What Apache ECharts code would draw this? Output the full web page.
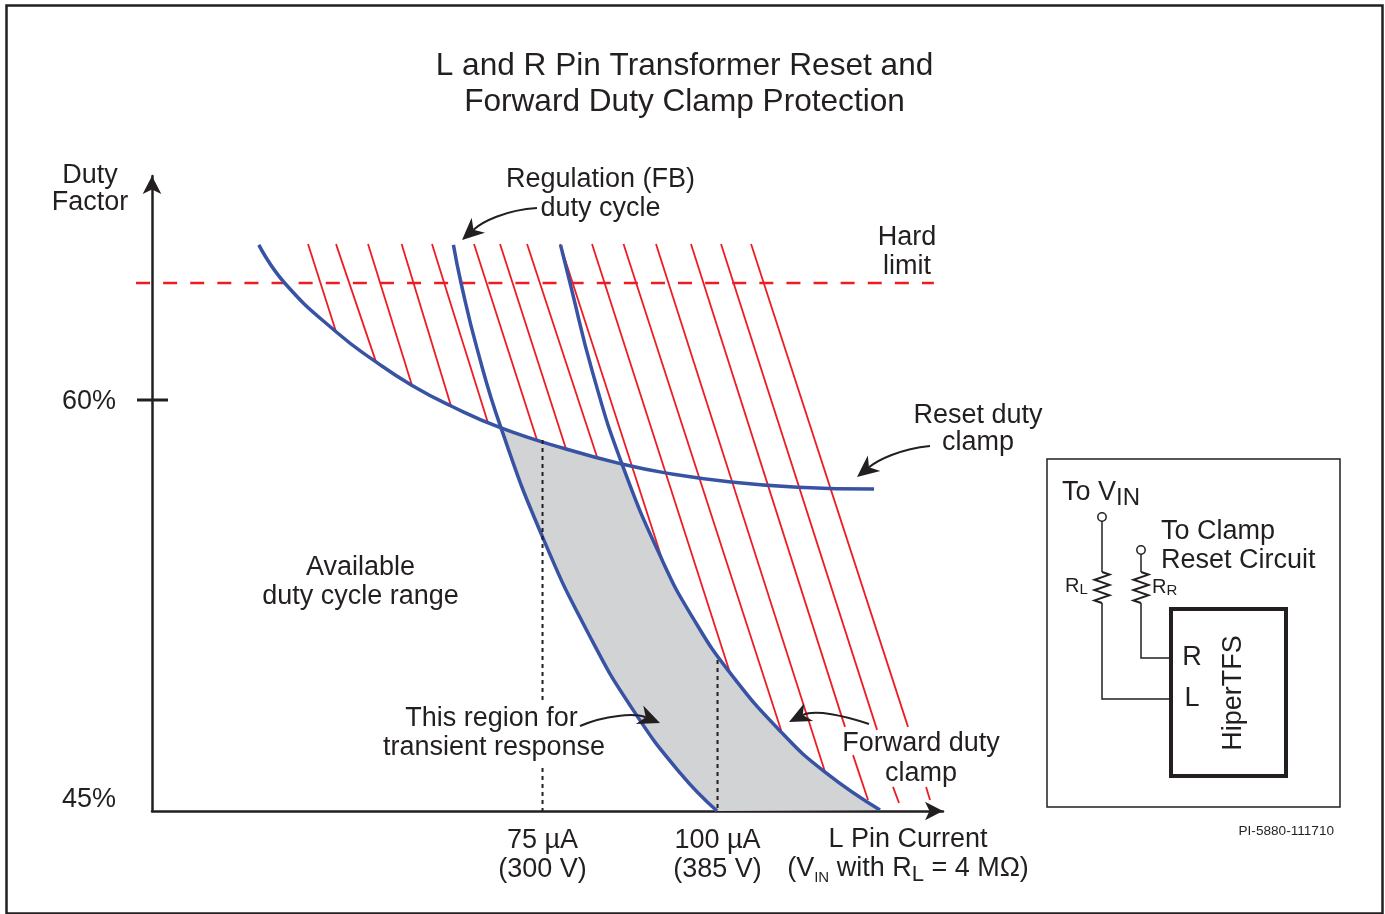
<!DOCTYPE html>
<html>
<head>
<meta charset="utf-8">
<script src="https://cdn.jsdelivr.net/npm/echarts@6/dist/echarts.min.js"></script>
<style>html,body{margin:0;padding:0;background:#fff}#c{width:1385px;height:914px}</style>
</head>
<body>
<div id="c"></div>
<script>
// L pin current (uA) vs duty factor (%)
const xTickValues = [75, 100];
const xTickLabels = ['75 µA\n(300 V)', '100 µA\n(385 V)'];
const yTickValues = [45, 60];
const yTickLabels = ['45%', '60%'];

const resetClamp = [[34.47,65.66],[38.16,64.27],[45.5,62.49],[51.21,61.39],[56.36,60.53],[61.93,59.78],[69.07,58.98],[78.36,58.21],[86.36,57.66],[92.36,57.35],[101.93,57.01],[111.5,56.82],[122.36,56.75]];
const regulationCurve = [[62.27,65.66],[63.36,64.27],[65.59,61.93],[69.07,58.98],[75.07,54.96],[81.79,51.36],[87.93,48.69],[94.64,46.39],[99.93,45]];
const forwardClamp = [[77.57,65.66],[78.93,64.27],[82.17,60.99],[86.36,57.66],[92.21,54.09],[96.5,52.04],[101.79,50.04],[109.21,47.85],[115.36,46.42],[123.21,45.04]];
const hardLimit = [[16.93,64.27],[130.9,64.27]];

const hatchLines = [
  [[41.5,65.69],[45.5,62.49]],
  [[45.5,65.69],[51.21,61.39]],
  [[50.07,65.69],[56.36,60.53]],
  [[54.87,65.69],[61.93,59.78]],
  [[59.21,65.69],[67.21,59.16]],
  [[65.21,65.69],[74.21,58.54]],
  [[68.93,65.69],[78.36,58.21]],
  [[72.79,65.69],[82.79,57.92]],
  [[77.5,65.69],[92.21,54.09]],
  [[82.07,65.69],[101.79,50.04]],
  [[86.57,65.69],[109.21,47.85]],
  [[91.21,65.69],[115.36,46.42]],
  [[96.21,65.69],[118.21,48.07]],
  [[119.36,47.04],[121.5,45.4]],
  [[100.5,65.69],[122.79,47.96]],
  [[125.07,45.88],[125.93,45.29]],
  [[104.79,65.69],[127.21,48.07]],
  [[129.79,45.88],[130.36,45.4]]
];
const dottedLines = [
  [[75,58.54],[75,49.05]],
  [[75,46.57],[75,45]],
  [[100,50.51],[100,45]]
];
const tick60 = [[17.07,60],[21.5,60]];

const INK = '#231f20', BLUE = '#3953a4', RED = '#ed1c24', GREY = '#d1d3d4';
const FONT = '"Liberation Sans", Arial, sans-serif';
const BODY = 27;

const region = resetClamp.slice(6, 9).concat(forwardClamp.slice(3), regulationCurve.slice(3).reverse());

function txt(x, y, text, opt) {
  opt = opt || {};
  return { type: 'text', x: x, y: y, rotation: opt.rotation || 0, z: 20, silent: true,
    style: { text: text, fill: INK, font: (opt.size || BODY) + 'px ' + FONT, align: opt.align || 'center',
      verticalAlign: 'middle', lineHeight: opt.lh, rich: opt.rich } };
}
function line(points, w) {
  return { type: 'polyline', z: 20, silent: true, shape: { points: points }, style: { stroke: INK, lineWidth: w || 1.5, fill: null } };
}
function arrow(p0, c1, c2, p1) {
  const dx = p1[0] - c2[0], dy = p1[1] - c2[1], L = Math.hypot(dx, dy) || 1;
  const ux = dx / L, uy = dy / L, nx = -uy, ny = ux, h = 22, w = 10;
  const end = [p1[0] - ux * (h * 0.7), p1[1] - uy * (h * 0.7)];
  return [
    { type: 'bezierCurve', z: 20, silent: true, shape: { x1: p0[0], y1: p0[1], cpx1: c1[0], cpy1: c1[1], cpx2: c2[0], cpy2: c2[1], x2: end[0], y2: end[1] }, style: { stroke: INK, lineWidth: 2, fill: null } },
    { type: 'polygon', z: 20, silent: true, shape: { points: [p1,
      [p1[0] - ux * h + nx * w, p1[1] - uy * h + ny * w], end,
      [p1[0] - ux * h - nx * w, p1[1] - uy * h - ny * w]] }, style: { fill: INK } }
  ];
}
function zigzag(x, y0, y1) {
  const pts = [[x, y0]], n = 6, dy = (y1 - y0) / n, a = 7.5;
  for (let i = 0; i < n; i++) pts.push([x + (i % 2 ? -a : a), y0 + dy * (i + 0.5)]);
  pts.push([x, y1]);
  return pts;
}
const subRich = {
  s: { font: '24px ' + FONT, fill: INK, verticalAlign: 'bottom', padding: [10, 0, 0, 0] },
  l: { font: '22px ' + FONT, fill: INK, verticalAlign: 'bottom', padding: [11, 0, 0, 0] },
  i: { font: '15px ' + FONT, fill: INK, verticalAlign: 'bottom', padding: [18, 0, 0, 0] }
};
const smallSub = { t: { font: '15px ' + FONT, fill: INK, verticalAlign: 'bottom', padding: [8, 0, 0, 0] } };

const graphics = [
  { type: 'rect', z: 0, silent: true, shape: { x: 6.5, y: 5.5, width: 1376, height: 908 }, style: { fill: null, stroke: INK, lineWidth: 2.5 } },
  txt(684.5, 84.5, 'L and R Pin Transformer Reset and\nForward Duty Clamp Protection', { size: 31.6, lh: 36 }),
  txt(90, 189, 'Duty\nFactor', { lh: 27 }),
  txt(600.5, 194, 'Regulation (FB)\nduty cycle', { lh: 29 }),
  txt(907, 252, 'Hard\nlimit', { lh: 29 }),
  txt(978, 429, 'Reset duty\nclamp', { lh: 27 }),
  txt(360.5, 582, 'Available\nduty cycle range', { lh: 29 }),
  txt(491.5, 719, 'This region for'),
  txt(494, 748, 'transient response'),
  txt(921, 759, 'Forward duty\nclamp', { lh: 30 }),
  txt(908, 840, 'L Pin Current'),
  txt(908, 869, '(V{i|IN} with R{l|L} = 4 MΩ)', { rich: subRich }),
  txt(1062, 493, 'To V{s|IN}', { align: 'left', rich: subRich }),
  txt(1161, 546, 'To Clamp\nReset Circuit', { align: 'left', lh: 29 }),
  txt(1065, 586, 'R{t|L}', { align: 'left', size: 20, rich: smallSub }),
  txt(1152, 587, 'R{t|R}', { align: 'left', size: 20, rich: smallSub }),
  txt(1192, 658, 'R'),
  txt(1192, 699, 'L'),
  txt(1233.5, 693, 'HiperTFS', { rotation: Math.PI / 2 }),
  txt(1334, 831, 'PI-5880-111710', { align: 'right', size: 13.6 }),
  { type: 'rect', z: 20, silent: true, shape: { x: 1047, y: 459, width: 293, height: 348 }, style: { fill: null, stroke: INK, lineWidth: 1.5 } },
  { type: 'rect', z: 20, silent: true, shape: { x: 1171, y: 609, width: 115, height: 167 }, style: { fill: null, stroke: INK, lineWidth: 4 } },
  { type: 'circle', z: 20, silent: true, shape: { cx: 1102, cy: 517, r: 4.2 }, style: { fill: '#fff', stroke: INK, lineWidth: 1.5 } },
  { type: 'circle', z: 20, silent: true, shape: { cx: 1141, cy: 550, r: 4.2 }, style: { fill: '#fff', stroke: INK, lineWidth: 1.5 } },
  line([[1102, 521], [1102, 572]]),
  line([[1141, 554], [1141, 572]]),
  line(zigzag(1102, 572, 603), 2),
  line(zigzag(1141, 572, 603), 2),
  line([[1102, 603], [1102, 699], [1170, 699]]),
  line([[1141, 603], [1141, 658], [1170, 658]])
].concat(
  arrow([537, 208], [505, 210], [482, 222], [462, 240]),
  arrow([930, 446], [900, 449], [878, 460], [857, 477]),
  arrow([580, 726], [605, 715], [635, 713], [660, 723]),
  arrow([869, 724], [845, 716], [815, 709], [789, 722])
);

function straightItem(points, style) {
  return function (params, api) {
    if (params.dataIndex !== 0) return null;
    const a = api.coord(points[0]), b = api.coord(points[1]);
    return { type: 'line', shape: { x1: a[0], y1: a[1], x2: b[0], y2: b[1] }, style: style };
  };
}

const series = [
  { type: 'custom', name: 'Transient region', z: 1, silent: true, data: region,
    renderItem: function (params, api) {
      if (params.dataIndex !== 0) return null;
      return { type: 'polygon', smooth: 0, shape: { points: region.map(function (p) { return api.coord(p); }) }, style: { fill: GREY } };
    } }
];
hatchLines.forEach(function (seg) {
  series.push({ type: 'line', name: 'Hatch', data: seg, z: 2, symbol: 'none', silent: true, lineStyle: { color: RED, width: 1.8 } });
});
series.push({ type: 'custom', name: 'Hard limit', data: hardLimit, z: 2, silent: true,
  renderItem: straightItem(hardLimit, { stroke: RED, lineWidth: 2.4, lineDash: [14, 13.1], fill: null }) });
[['Reset duty clamp', resetClamp], ['Regulation (FB) duty cycle', regulationCurve], ['Forward duty clamp', forwardClamp]].forEach(function (s) {
  series.push({ type: 'line', name: s[0], data: s[1], z: 3, smooth: 0.5, symbol: 'none', silent: true, lineStyle: { color: BLUE, width: 3.5 } });
});
dottedLines.forEach(function (seg) {
  series.push({ type: 'line', name: 'Guide', data: seg, z: 4, symbol: 'none', silent: true, lineStyle: { color: INK, width: 2, type: [4, 4] } });
});
series.push({ type: 'custom', name: 'Tick', data: tick60, z: 5, silent: true,
  renderItem: straightItem(tick60, { stroke: INK, lineWidth: 3, fill: null }) });

const chart = echarts.init(document.getElementById('c'));
chart.setOption({
  animation: false,
  backgroundColor: '#fff',
  grid: { left: 152, top: 176, width: 791, height: 635 },
  xAxis: { type: 'value', min: 19.21, max: 132.21, splitLine: { show: false },
    axisLine: { onZero: false, lineStyle: { color: INK, width: 2.5 }, symbol: ['none', 'arrow'], symbolSize: [14, 18] },
    axisTick: { show: false },
    axisLabel: { customValues: xTickValues, margin: 15, color: INK, fontFamily: FONT, fontSize: BODY, lineHeight: 29, align: 'center', verticalAlign: 'top',
      formatter: function (v) { return xTickLabels[xTickValues.indexOf(v)]; } } },
  yAxis: { type: 'value', min: 45, max: 68.175, splitLine: { show: false },
    axisLine: { onZero: false, lineStyle: { color: INK, width: 2.5 }, symbol: ['none', 'arrow'], symbolSize: [14, 18] },
    axisTick: { show: false },
    axisLabel: { customValues: yTickValues, margin: 36, color: INK, fontFamily: FONT, fontSize: BODY,
      formatter: function (v) { const s = yTickLabels[yTickValues.indexOf(v)]; return v === 45 ? '{up|' + s + '}' : '{mid|' + s + '}'; },
      rich: { up: { fontFamily: FONT, fontSize: BODY, color: INK, padding: [0, 0, 22, 0] }, mid: { fontFamily: FONT, fontSize: BODY, color: INK, padding: [4, 0, 0, 0] } } } },
  series: series,
  graphic: graphics
});
</script>
</body>
</html>
